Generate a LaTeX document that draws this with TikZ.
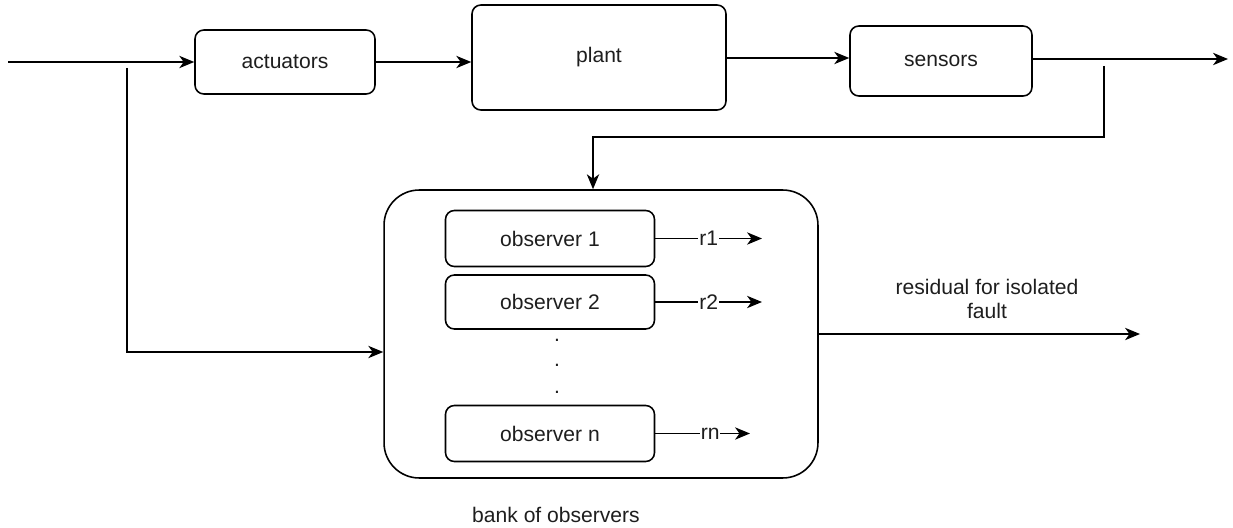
\documentclass[tikz,border=0pt]{standalone}
\usepackage{fontspec}
\setmainfont{Liberation Sans}
\usepackage{tikz}
\usetikzlibrary{positioning, shapes, arrows.meta, calc}
\definecolor{LineBlack}{RGB}{0, 0, 0}
\definecolor{TextGray}{RGB}{30, 30, 30}

\begin{document}
\begin{tikzpicture}[x=0.02cm, y=-0.02cm,
    block/.style={draw=LineBlack, line width=0.9pt, rounded corners=5pt, font=\fontsize{12}{14}\selectfont, text=TextGray},
    sig/.style={line width=0.9pt, draw=LineBlack},
    arr/.style={sig, -{Stealth[length=8.5pt, width=7pt, inset=2.5pt]}},
    lbl/.style={font=\fontsize{12}{14}\selectfont, text=TextGray}]
    \useasboundingbox (0, 0) rectangle (1233, 527);

    % Main loop
    \node[block, minimum width=3.6cm, minimum height=1.28cm] (act) at (285, 62) {actuators};
    \node[block, minimum width=5.08cm, minimum height=2.1cm] (plant) at (599, 57.5) {plant};
    \node[block, minimum width=3.64cm, minimum height=1.4cm] (sens) at (941, 61) {sensors};
    \coordinate (in) at (8, 62);
    \coordinate (out) at (1228, 59);
    \draw[arr] (in) -- (act.west);
    \draw[arr] (act.east) -- (plant.west |- act.east);
    \draw[arr] (plant.east |- 0, 58) -- (sens.west |- 0, 58);
    \draw[arr] (sens.east |- out) -- (out);

    % Bank of observers
    \node[block, rounded corners=20pt, minimum width=8.68cm, minimum height=5.76cm] (bank) at (601, 334) {};
    \node[block, minimum width=4.18cm, minimum height=1.12cm] (obs1) at (550, 238.5) {observer 1};
    \node[block, minimum width=4.18cm, minimum height=1.08cm] (obs2) at (550, 302) {observer 2};
    \node[block, minimum width=4.18cm, minimum height=1.12cm] (obsn) at (550, 433.5) {observer n};
    \foreach \y [count=\i] in {341, 366, 393}
      \node[lbl, anchor=base, inner sep=0pt] (dot\i) at (557, \y) {.};
    \node[lbl] (banklbl) at (556, 515) {bank of observers};

    % Residuals
    \coordinate (r1end) at (762, 238.5);
    \coordinate (r2end) at (762, 302);
    \coordinate (rnend) at (750, 433.5);
    \draw[arr] (obs1.east) -- node[lbl, fill=white, inner sep=0.5pt] {r1} (r1end);
    \draw[arr] (obs2.east) -- node[lbl, fill=white, inner sep=0.5pt] {r2} (r2end);
    \draw[arr] (obsn.east) -- node[lbl, fill=white, inner sep=0.5pt, pos=0.58] {rn} (rnend);

    % Feedback and input branch
    \coordinate (tap) at (127, 68);
    \coordinate (meas) at (1104, 66);
    \draw[arr] (tap) |- (bank.west |- 0, 352);
    \draw[arr] (meas) -- (meas |- 0, 137) -| (593, 0 |- bank.north);

    % Output
    \coordinate (res) at (1140, 334);
    \draw[arr] (bank.east) -- (res);
    \node[lbl, align=center] (reslbl) at (987, 299) {residual for isolated\\fault};
\end{tikzpicture}
\end{document}
